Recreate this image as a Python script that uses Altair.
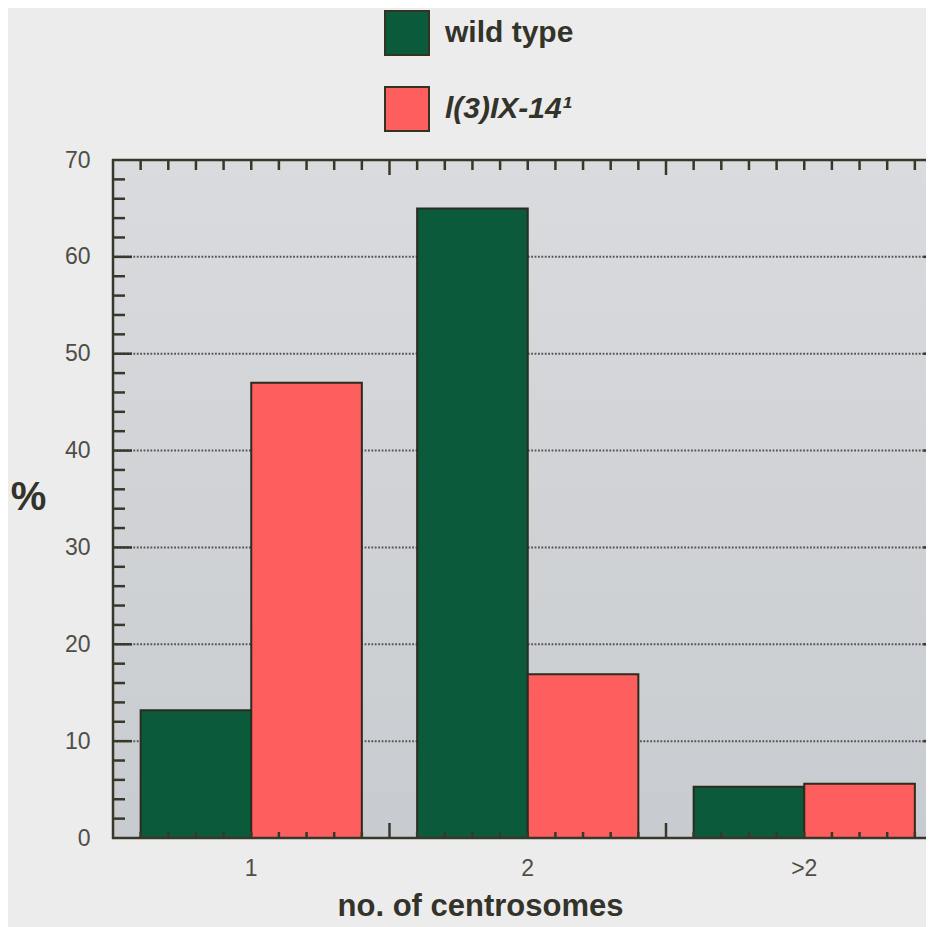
import altair as alt
import pandas as pd

# ---- data ----
groups = ["1", "2", ">2"]
series = ["wild type", "l(3)IX-14\u00b9"]
wild_type = [13.2, 65.0, 5.3]
mutant = [47.0, 16.9, 5.6]
colors = ["#0c5a3c", "#ff5e5e"]

y_labels = [0, 10, 20, 30, 40, 50, 60, 70]
grid_values = [10, 20, 30, 40, 50, 60]
y_major = [10, 20, 30, 40, 50, 60]
y_minor = [2, 4, 6, 8, 12, 14, 16, 18, 22, 24, 26, 28, 32, 34, 36, 38,
           42, 44, 46, 48, 52, 54, 56, 58, 62, 64, 66, 68]
x_major = [10, 20]
x_minor = [1, 2, 3, 4, 5, 6, 7, 8, 9, 11, 12, 13, 14, 15, 16, 17, 18, 19,
           21, 22, 23, 24, 25, 26, 27, 28, 29]

W = 813        # visible plot width (image is cropped at the right)
XR = 829.5     # full plot width (right frame falls outside the picture)
H = 678
FONT = "Liberation Sans"
DARK = "#38382a"
TXT = "#4e4e46"

rows = []
for g, a, b in zip(groups, wild_type, mutant):
    rows.append({"group": g, "series": series[0], "value": a})
    rows.append({"group": g, "series": series[1], "value": b})
bars_df = pd.DataFrame(rows)

yscale = alt.Scale(domain=[0, 70], nice=False, zero=True)

bg = alt.Chart(alt.Data(values=[{}])).mark_rect(
    color=alt.LinearGradient(
        gradient="linear",
        stops=[alt.GradientStop(color="#d9dbde", offset=0),
               alt.GradientStop(color="#c8cbcf", offset=1)],
        x1=0, x2=0, y1=0, y2=1)
).encode(x=alt.value(0), x2=alt.value(XR), y=alt.value(0), y2=alt.value(H))

grid = alt.Chart(pd.DataFrame({"v": grid_values})).mark_rule(
    color="#555555", strokeWidth=2, strokeDash=[1.8, 1.6]
).encode(y=alt.Y("v:Q", scale=yscale, axis=None), x=alt.value(0), x2=alt.value(XR))

bars = alt.Chart(bars_df).mark_bar(stroke="#2b2b1e", strokeWidth=2, opacity=1).encode(
    x=alt.X("group:N", sort=groups,
            scale=alt.Scale(range=[0, XR], paddingInner=0.2, paddingOuter=0.1),
            axis=alt.Axis(title="no. of centrosomes", labelAngle=0, ticks=False, domain=False,
                          labelFont=FONT, labelFontSize=23, labelColor=TXT, labelPadding=19,
                          titleFont=FONT, titleFontSize=31, titleFontWeight="bold",
                          titleColor="#33332a", titleX=367, titleY=77,
                          titleBaseline="alphabetic", titleAlign="center")),
    xOffset=alt.XOffset("series:N", sort=series),
    y=alt.Y("value:Q", scale=yscale,
            axis=alt.Axis(values=y_labels, ticks=False, domain=False, grid=False,
                          labelFont=FONT, labelFontSize=23, labelColor=TXT, labelPadding=23,
                          title="%", titleAngle=0, titleFont=FONT, titleFontSize=40,
                          titleFontWeight="bold", titleColor="#33332a",
                          titleX=-85, titleY=337, titleAlign="center",
                          titleBaseline="middle")),
    color=alt.Color("series:N", sort=series,
                    scale=alt.Scale(domain=series, range=colors),
                    legend=alt.Legend(orient="none", legendX=271, legendY=-150, title=None,
                                      padding=0, symbolType="square", symbolSize=1936,
                                      symbolStrokeColor="#333322", symbolStrokeWidth=2,
                                      symbolOpacity=1, rowPadding=24, labelOffset=15,
                                      labelFont=FONT, labelFontSize=30, labelFontWeight="bold",
                                      labelColor="#33332a", labelLimit=400,
                                      labelFontStyle={"expr": "datum.value == 'wild type' ? 'normal' : 'italic'"})),
)

ymaj_df = pd.DataFrame({"v": y_major})
ymin_df = pd.DataFrame({"v": y_minor})
tick_style = dict(color=DARK, strokeWidth=2.5)

left_major = alt.Chart(ymaj_df).mark_rule(**tick_style).encode(
    y=alt.Y("v:Q", scale=yscale, axis=None), x=alt.value(0), x2=alt.value(19))
left_minor = alt.Chart(ymin_df).mark_rule(**tick_style).encode(
    y=alt.Y("v:Q", scale=yscale, axis=None), x=alt.value(0), x2=alt.value(12))
right_major = alt.Chart(ymaj_df).mark_rule(**tick_style).encode(
    y=alt.Y("v:Q", scale=yscale, axis=None), x=alt.value(XR), x2=alt.value(XR - 19))
right_minor = alt.Chart(ymin_df).mark_rule(**tick_style).encode(
    y=alt.Y("v:Q", scale=yscale, axis=None), x=alt.value(XR), x2=alt.value(XR - 12))

xscale_t = alt.Scale(domain=[0, 30], range=[0, XR], nice=False, zero=False)
xmaj_df = pd.DataFrame({"p": x_major})
xmin_df = pd.DataFrame({"p": x_minor})

top_major = alt.Chart(xmaj_df).mark_rule(**tick_style).encode(
    x=alt.X("p:Q", scale=xscale_t, axis=None), y=alt.value(0), y2=alt.value(15))
top_minor = alt.Chart(xmin_df).mark_rule(**tick_style).encode(
    x=alt.X("p:Q", scale=xscale_t, axis=None), y=alt.value(0), y2=alt.value(10))
bot_major = alt.Chart(xmaj_df).mark_rule(**tick_style).encode(
    x=alt.X("p:Q", scale=xscale_t, axis=None), y=alt.value(H), y2=alt.value(H - 15))
bot_minor = alt.Chart(xmin_df).mark_rule(**tick_style).encode(
    x=alt.X("p:Q", scale=xscale_t, axis=None), y=alt.value(H), y2=alt.value(H - 6))

frame_style = dict(color=DARK, strokeWidth=2.5)
frame_left = alt.Chart(alt.Data(values=[{}])).mark_rule(**frame_style).encode(
    x=alt.value(0), y=alt.value(-1), y2=alt.value(H + 1))
frame_top = alt.Chart(alt.Data(values=[{}])).mark_rule(**frame_style).encode(
    y=alt.value(0), x=alt.value(-1), x2=alt.value(XR))
frame_bottom = alt.Chart(alt.Data(values=[{}])).mark_rule(**frame_style).encode(
    y=alt.value(H), x=alt.value(-1), x2=alt.value(XR))

chart = alt.layer(
    bg, grid, bars,
    left_major, left_minor, right_major, right_minor,
    top_major, top_minor, bot_major, bot_minor,
    frame_left, frame_top, frame_bottom,
).resolve_scale(x="independent").resolve_axis(y="independent").properties(
    width=W, height=H,
    autosize=alt.AutoSizeParams(type="none"),
    padding={"left": 105, "top": 152, "right": 0, "bottom": 89},
    background="#ececed",
).configure_view(stroke=None)

chart.save("out.html", embed_options={"renderer": "svg", "actions": False})
